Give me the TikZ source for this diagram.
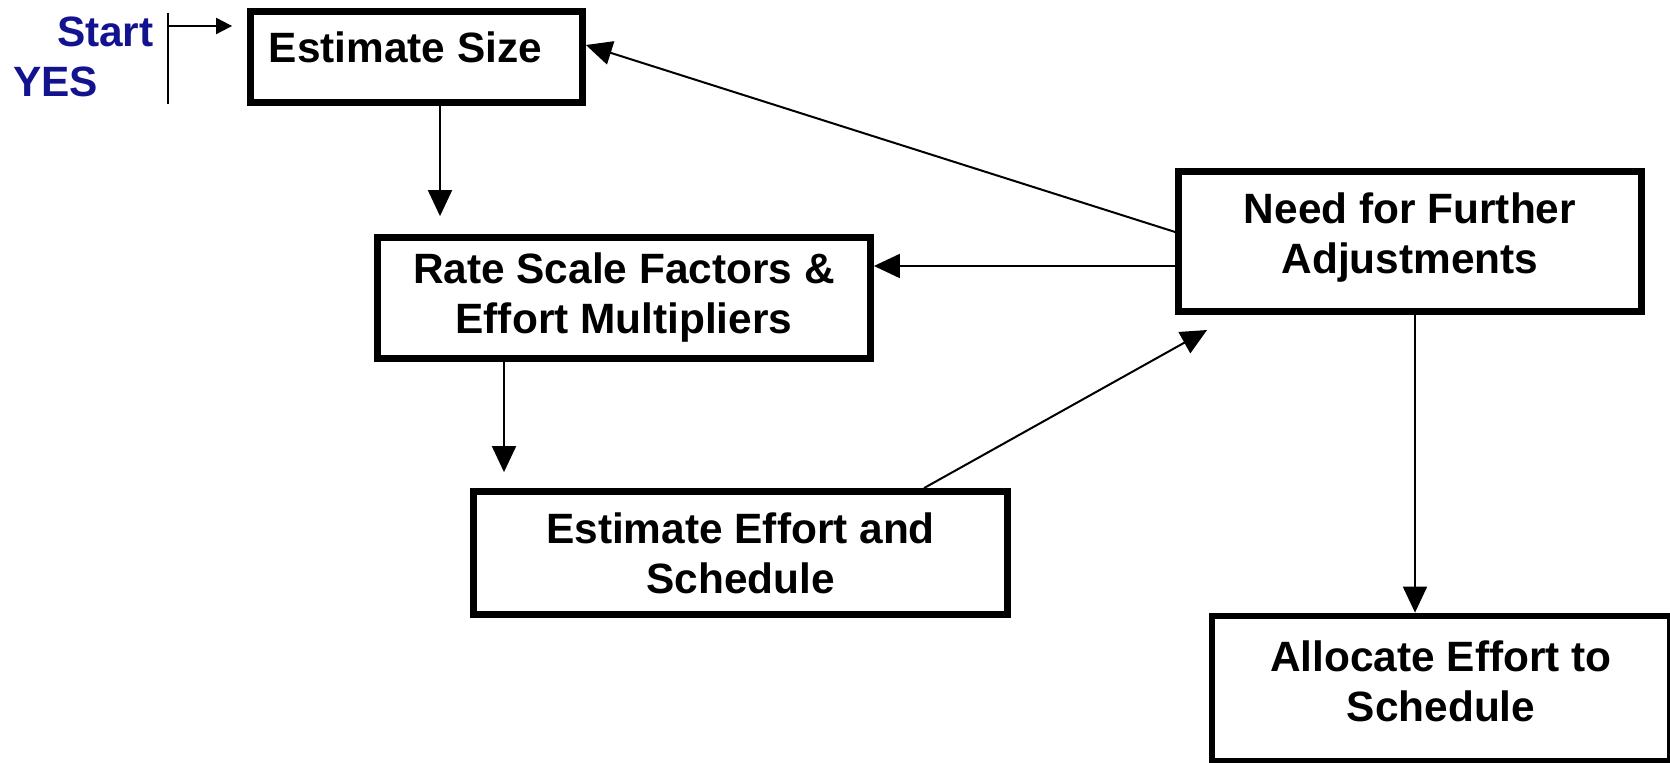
\documentclass[tikz,border=0pt]{standalone}
\usepackage{fontspec}
\setmainfont{Liberation Sans}
\usetikzlibrary{arrows.meta, positioning}
\definecolor{StartBlue}{HTML}{13138F}

\begin{document}
\begin{tikzpicture}[x = 0.5pt, y = -0.5pt,
    font = \fontsize{21.2pt}{25pt}\selectfont\bfseries,
    box/.style = {draw, line width = 3.4pt, align = center, inner sep = 0pt},
    link/.style = {line width = 1pt, -{Triangle[width = 12pt, length = 13pt]}},
    startlink/.style = {line width = 1pt, -{Triangle[width = 8pt, length = 8pt]}}]

    \useasboundingbox (0, 0) rectangle (1670, 763);

    % boxes
    \node[box, minimum width = 166pt,   minimum height = 45.5pt, text depth = 9.5pt] (size)   at (416.5, 57)   {Estimate Size\hspace*{11pt}};
    \node[box, minimum width = 246.5pt, minimum height = 60.5pt] (rate)   at (624, 298)    {Rate Scale Factors \&\\Effort Multipliers};
    \node[box, minimum width = 267pt,   minimum height = 61.5pt] (effort) at (740.5, 553)  {Estimate Effort and\\Schedule};
    \node[box, minimum width = 231.5pt, minimum height = 70pt, text depth = 8.5pt] (need) at (1410, 241.5) {Need for Further\\Adjustments};
    \node[box, minimum width = 229pt,   minimum height = 72.5pt, text depth = 7pt]   (alloc) at (1441, 688.5) {Allocate Effort to\\Schedule};

    % start marker
    \node[StartBlue, anchor = east, inner sep = 0pt] (start) at (154, 32) {Start};
    \node[StartBlue, anchor = west, inner sep = 0pt] (yes)   at (13, 82)  {YES};
    \coordinate (bar top) at (168, 13);
    \coordinate (bar bot) at (168, 104);
    \coordinate (entry)   at (168, 26);
    \draw[line width = 1pt] (bar top) -- (bar bot);
    \draw[startlink, shorten > = 7.5pt] (entry) -- (entry -| size.west);

    % connectors
    \draw[link, shorten > = 9pt] ([xshift = 11.75pt]size.south) -- ([xshift = 11.75pt]size.south |- rate.north);
    \draw[link, shorten > = 8pt] ([xshift = -60pt]rate.south) -- ([xshift = -60pt]rate.south |- effort.north);
    \draw[link] ([yshift = -12.25pt]need.west) -- ([yshift = -12.25pt]need.west -| rate.east);
    \draw[link] ([yshift = 4.75pt]need.west) -- ([yshift = 6pt]size.east);
    \draw[link, shorten > = 15.5pt] ([xshift = 91.75pt]effort.north) -- ([xshift = 29.5pt]need.south west);
    \draw[link] ([xshift = 2.5pt]need.south) -- ([xshift = 2.5pt]need.south |- alloc.north);
\end{tikzpicture}
\end{document}
